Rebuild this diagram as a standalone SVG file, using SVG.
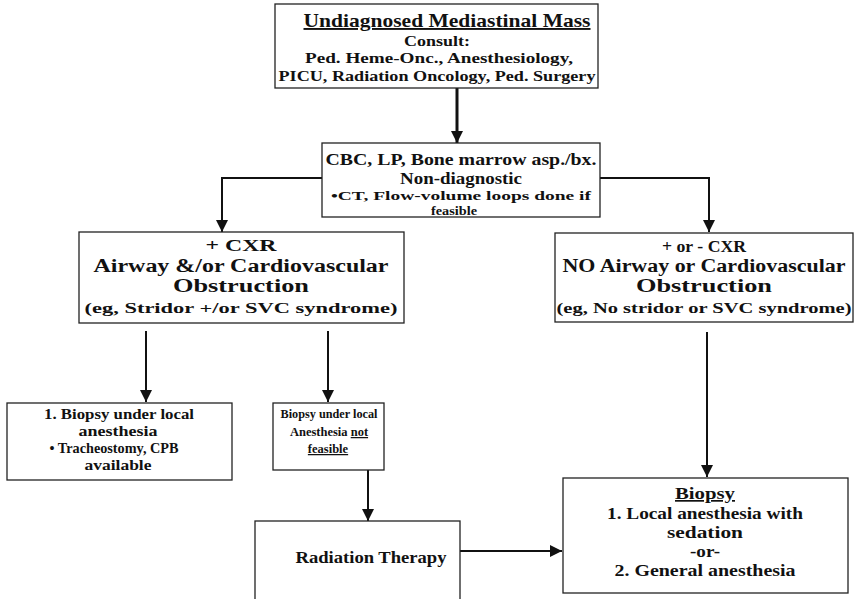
<svg xmlns="http://www.w3.org/2000/svg" width="855" height="599" viewBox="0 0 855 599">
<defs>
<style>
.box{fill:#fff;stroke:#222;stroke-width:1.3}
.t{font-family:"Liberation Serif","DejaVu Serif",serif;font-weight:bold;fill:#111;text-anchor:middle}
.c{fill:none;stroke:#111;stroke-width:2}
.thick{stroke-width:3}
</style>
<marker id="ah" viewBox="0 0 10 10" refX="10" refY="5" markerWidth="6" markerHeight="6" markerUnits="strokeWidth" orient="auto">
<path d="M0,0 L10,5 L0,10 z" fill="#111"/>
</marker>
<marker id="ah2" viewBox="0 0 10 10" refX="10" refY="5" markerWidth="4.5" markerHeight="4" markerUnits="strokeWidth" orient="auto">
<path d="M0,0 L10,5 L0,10 z" fill="#111"/>
</marker>
</defs>
<rect width="855" height="599" fill="#fff"/>
<g id="connectors">
<line class="c thick" x1="457" y1="88" x2="457" y2="143" marker-end="url(#ah2)"/>
<polyline class="c" points="322,178 222,178 222,232" marker-end="url(#ah)"/>
<polyline class="c" points="600,178 709,178 709,232" marker-end="url(#ah)"/>
<line class="c" x1="146" y1="331" x2="146" y2="402" marker-end="url(#ah)"/>
<line class="c" x1="328" y1="331" x2="328" y2="402" marker-end="url(#ah)"/>
<line class="c" x1="707" y1="332" x2="707" y2="477" marker-end="url(#ah)"/>
<line class="c" x1="368" y1="470" x2="368" y2="521" marker-end="url(#ah)"/>
<line class="c" x1="460" y1="551" x2="562" y2="551" marker-end="url(#ah)"/>
</g>
<g id="n-top">
<rect class="box" x="275" y="4" width="323" height="84"/>
<text class="t" x="447" y="27" font-size="19" text-decoration="underline" textLength="287" lengthAdjust="spacingAndGlyphs">Undiagnosed Mediastinal Mass</text>
<text class="t" x="437" y="45.5" font-size="15" textLength="66" lengthAdjust="spacingAndGlyphs">Consult:</text>
<text class="t" x="439" y="63" font-size="15" textLength="268" lengthAdjust="spacingAndGlyphs">Ped. Heme-Onc., Anesthesiology,</text>
<text class="t" x="437" y="80.5" font-size="15" textLength="317" lengthAdjust="spacingAndGlyphs">PICU, Radiation Oncology, Ped. Surgery</text>
</g>
<g id="n-cbc">
<rect class="box" x="322" y="143" width="278" height="74"/>
<text class="t" x="461" y="165" font-size="17" textLength="271" lengthAdjust="spacingAndGlyphs">CBC, LP, Bone marrow asp./bx.</text>
<text class="t" x="461" y="184" font-size="17" textLength="122" lengthAdjust="spacingAndGlyphs">Non-diagnostic</text>
<text class="t" x="461" y="200" font-size="13" textLength="260" lengthAdjust="spacingAndGlyphs">•CT, Flow-volume loops done if</text>
<text class="t" x="454" y="214.5" font-size="12.5" textLength="46" lengthAdjust="spacingAndGlyphs">feasible</text>
</g>
<g id="n-obstr">
<rect class="box" x="79" y="232" width="325" height="91"/>
<text class="t" x="241" y="251" font-size="17" textLength="71" lengthAdjust="spacingAndGlyphs">+ CXR</text>
<text class="t" x="241" y="272" font-size="18" textLength="295" lengthAdjust="spacingAndGlyphs">Airway &amp;/or Cardiovascular</text>
<text class="t" x="241" y="292" font-size="18" textLength="136" lengthAdjust="spacingAndGlyphs">Obstruction</text>
<text class="t" x="241" y="313" font-size="15" textLength="313" lengthAdjust="spacingAndGlyphs">(eg, Stridor +/or SVC syndrome)</text>
</g>
<g id="n-noobstr">
<rect class="box" x="555" y="233" width="298" height="89"/>
<text class="t" x="704" y="252" font-size="17" textLength="84" lengthAdjust="spacingAndGlyphs">+ or - CXR</text>
<text class="t" x="704" y="272" font-size="18" textLength="283" lengthAdjust="spacingAndGlyphs">NO Airway or Cardiovascular</text>
<text class="t" x="704" y="292" font-size="18" textLength="136" lengthAdjust="spacingAndGlyphs">Obstruction</text>
<text class="t" x="704" y="313" font-size="15" textLength="295" lengthAdjust="spacingAndGlyphs">(eg, No stridor or SVC syndrome)</text>
</g>
<g id="n-local">
<rect class="box" x="7" y="403" width="225" height="77"/>
<text class="t" x="119" y="419" font-size="15" textLength="150" lengthAdjust="spacingAndGlyphs">1. Biopsy under local</text>
<text class="t" x="118" y="436" font-size="15" textLength="79" lengthAdjust="spacingAndGlyphs">anesthesia</text>
<text class="t" x="114" y="453" font-size="15" textLength="129" lengthAdjust="spacingAndGlyphs">• Tracheostomy, CPB</text>
<text class="t" x="118" y="470" font-size="15" textLength="67" lengthAdjust="spacingAndGlyphs">available</text>
</g>
<g id="n-notfeasible">
<rect class="box" x="273" y="403" width="111" height="67"/>
<text class="t" x="329" y="418" font-size="12.5" textLength="97" lengthAdjust="spacingAndGlyphs">Biopsy under local</text>
<text class="t" x="329" y="436" font-size="12.5">Anesthesia <tspan text-decoration="underline">not</tspan></text>
<text class="t" x="328" y="453" font-size="12.5" text-decoration="underline">feasible</text>
</g>
<g id="n-radiation">
<rect class="box" x="255" y="521" width="205" height="85"/>
<text class="t" x="371" y="563" font-size="17" textLength="151" lengthAdjust="spacingAndGlyphs">Radiation Therapy</text>
</g>
<g id="n-biopsy">
<rect class="box" x="563" y="478" width="285" height="115"/>
<text class="t" x="705" y="499" font-size="17" text-decoration="underline" textLength="60" lengthAdjust="spacingAndGlyphs">Biopsy</text>
<text class="t" x="705" y="519" font-size="17" textLength="196" lengthAdjust="spacingAndGlyphs">1. Local anesthesia with</text>
<text class="t" x="705" y="538" font-size="17" textLength="76" lengthAdjust="spacingAndGlyphs">sedation</text>
<text class="t" x="705" y="557" font-size="17" textLength="30" lengthAdjust="spacingAndGlyphs">-or-</text>
<text class="t" x="705" y="576" font-size="17" textLength="181" lengthAdjust="spacingAndGlyphs">2. General anesthesia</text>
</g>
</svg>
